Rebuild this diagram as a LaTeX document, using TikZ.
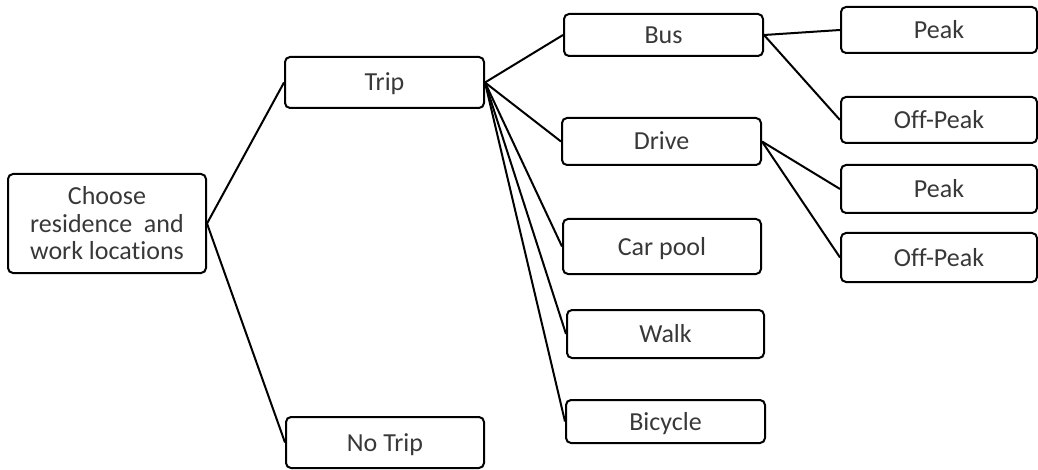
\documentclass[tikz,border=0pt]{standalone}
\usepackage{fontspec}
\setmainfont{Carlito}[Ligatures={NoCommon}]
\begin{document}
\begin{tikzpicture}[x=1pt,y=-1pt,
  box/.style={draw=black, line width=2pt, rounded corners=5pt, inner sep=0pt,
    text=black!78, font=\fontsize{26}{27.5}\selectfont, text height=17pt, text depth=0pt},
  link/.style={draw=black, line width=2pt}]
\useasboundingbox (0,0) rectangle (1038,470);
\node[box, text height=, text depth=, minimum width=198pt, minimum height=99pt, align=center] (choose) at (107,223.5) {Choose\\residence~ and\\work locations};
\node[box, minimum width=199pt, minimum height=51pt] (trip) at (384.5,82.5) {Trip};
\node[box, minimum width=198pt, minimum height=51pt] (notrip) at (385,442.5) {No Trip};
\node[box, minimum width=199pt, minimum height=42pt] (bus) at (663.5,35) {Bus};
\node[box, minimum width=199pt, minimum height=47pt] (drive) at (661.5,141.5) {Drive};
\node[box, minimum width=198pt, minimum height=55pt] (carpool) at (662,246.5) {Car pool};
\node[box, minimum width=197pt, minimum height=48pt] (walk) at (665.5,334) {Walk};
\node[box, minimum width=199pt, minimum height=43pt] (bicycle) at (665.5,421.5) {Bicycle};
\node[box, minimum width=196pt, minimum height=46pt] (peak1) at (939,30) {Peak};
\node[box, minimum width=196pt, minimum height=46pt] (offpeak1) at (939,120) {Off-Peak};
\node[box, minimum width=196pt, minimum height=48pt] (peak2) at (939,189) {Peak};
\node[box, minimum width=196pt, minimum height=49pt] (offpeak2) at (939,257.5) {Off-Peak};
\draw[link] (choose.east) -- (trip.west);
\draw[link] (choose.east) -- (notrip.west);
\draw[link] (trip.east) -- (bus.west);
\draw[link] (trip.east) -- (drive.west);
\draw[link] (trip.east) -- (carpool.west);
\draw[link] (trip.east) -- (walk.west);
\draw[link] (trip.east) -- (bicycle.west);
\draw[link] (bus.east) -- (peak1.west);
\draw[link] (bus.east) -- (offpeak1.west);
\draw[link] (drive.east) -- (peak2.west);
\draw[link] (drive.east) -- (offpeak2.west);
\end{tikzpicture}
\end{document}
